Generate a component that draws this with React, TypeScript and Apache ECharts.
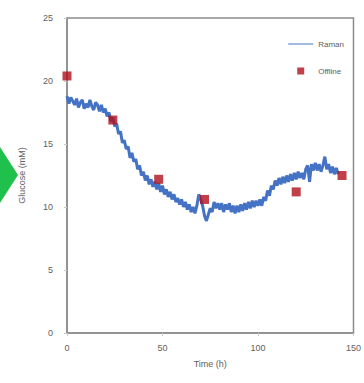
import React, { useEffect, useRef } from "react";
import * as echarts from "echarts";

const ramanTimes: number[] = Array.from({ length: 143 }, (_, i) => i);
const ramanValues: number[] = [
  18.8, 18.2, 18.7, 18.4, 18.1, 18.6, 17.9, 18.3, 18.5, 17.8,
  18.2, 17.9, 18.5, 18.0, 17.7, 18.3, 18.1, 17.6, 18.1, 17.5,
  17.8, 17.2, 17.5, 16.8, 17.1, 16.4, 16.6, 15.8, 16.0, 15.1,
  15.3, 14.6, 14.8, 13.9, 14.3, 13.6, 13.8, 13.0, 13.3, 12.5,
  12.8, 12.1, 12.5, 11.8, 12.2, 11.6, 12.0, 11.4, 11.9, 11.2,
  11.7, 11.0, 11.4, 10.8, 11.2, 10.6, 11.0, 10.4, 10.7, 10.2,
  10.6, 10.0, 10.4, 9.8, 10.2, 9.6, 10.0, 9.5, 10.1, 11.0,
  10.6, 10.1, 9.3, 8.9, 9.4, 9.9, 9.6, 10.4, 9.9, 10.3,
  9.8, 10.3, 9.6, 10.2, 9.8, 10.3, 9.6, 10.1, 9.5, 10.1,
  9.6, 10.2, 9.7, 10.3, 9.8, 10.4, 9.9, 10.5, 10.0, 10.5,
  10.1, 10.6, 10.1, 10.8, 10.5, 11.3, 10.9, 11.7, 11.4, 12.1,
  11.7, 12.3, 11.8, 12.4, 11.9, 12.5, 12.0, 12.6, 12.1, 12.7,
  12.2, 12.8, 12.3, 12.7, 12.2, 13.0, 13.3, 12.0, 13.4, 12.9,
  13.5, 12.9, 13.4, 12.8, 13.3, 14.0, 13.0, 13.4, 12.7, 13.2,
  12.6, 13.1, 12.6,
];

const offlineTimes: number[] = [0, 24, 48, 72, 120, 144];
const offlineValues: number[] = [20.4, 16.9, 12.2, 10.6, 11.2, 12.5];

const xTicks = { min: 0, max: 150, interval: 50 };
const yTicks = { min: 0, max: 25, interval: 5 };

export default function App() {
  const ref = useRef<HTMLDivElement>(null);
  useEffect(() => {
    if (!ref.current) return;
    const chart = echarts.init(ref.current, null, { renderer: "svg" });
    const textColor = "#606060";
    const axisColor = "#8c8c8c";
    chart.setOption({
      animation: false,
      backgroundColor: "#ffffff",
      textStyle: { fontFamily: "Liberation Sans, Arial, sans-serif" },
      grid: {
        left: 67,
        top: 18,
        right: 8,
        bottom: 50,
        show: true,
        borderColor: axisColor,
        borderWidth: 1.5,
        backgroundColor: "transparent",
      },
      legend: {
        orient: "vertical",
        right: 15,
        top: 35,
        itemGap: 19,
        itemWidth: 25,
        itemHeight: 7,
        textStyle: { color: textColor, fontSize: 8 },
        data: [
          { name: "Raman", icon: "path://M0,3 L25,3 L25,4 L0,4 Z" },
          { name: "Offline", icon: "path://M9,0 L16,0 L16,7 L9,7 Z" },
        ],
      },
      xAxis: {
        type: "value",
        min: xTicks.min,
        max: xTicks.max,
        interval: xTicks.interval,
        name: "Time (h)",
        nameLocation: "middle",
        nameGap: 26,
        nameTextStyle: { color: textColor, fontSize: 9 },
        axisLine: { show: true, lineStyle: { color: axisColor, width: 1.5 } },
        axisTick: { show: true, length: 3, lineStyle: { color: "#c8c8c8" } },
        axisLabel: { color: textColor, fontSize: 9, margin: 10 },
        splitLine: { show: false },
      },
      yAxis: {
        type: "value",
        min: yTicks.min,
        max: yTicks.max,
        interval: yTicks.interval,
        name: "Glucose (mM)",
        nameLocation: "middle",
        nameGap: 41,
        nameTextStyle: { color: textColor, fontSize: 9 },
        axisLine: { show: true, lineStyle: { color: axisColor, width: 1.5 } },
        axisTick: { show: true, length: 3, lineStyle: { color: "#c8c8c8" } },
        axisLabel: { color: textColor, fontSize: 9, margin: 14 },
        splitLine: { show: false },
      },
      series: [
        {
          name: "Raman",
          type: "line",
          data: ramanTimes.map((t, i) => [t, ramanValues[i]]),
          showSymbol: false,
          symbol: "none",
          lineStyle: { color: "#4472c4", width: 3 },
          itemStyle: { color: "#4472c4" },
          z: 2,
        },
        {
          name: "Offline",
          type: "scatter",
          data: offlineTimes.map((t, i) => [t, offlineValues[i]]),
          symbol: "rect",
          symbolSize: 9,
          itemStyle: { color: "#b0101c" },
          z: 3,
        },
      ],
      graphic: [
        {
          type: "polygon",
          shape: {
            points: [
              [18, 175],
              [0, 147],
              [-18, 175],
              [0, 203],
            ],
          },
          style: { fill: "#1fc04b" },
        },
      ],
    });
    return () => chart.dispose();
  }, []);
  return (
    <div
      ref={ref}
      style={{ position: "fixed", left: 0, top: 0, width: 364, height: 383 }}
    />
  );
}
